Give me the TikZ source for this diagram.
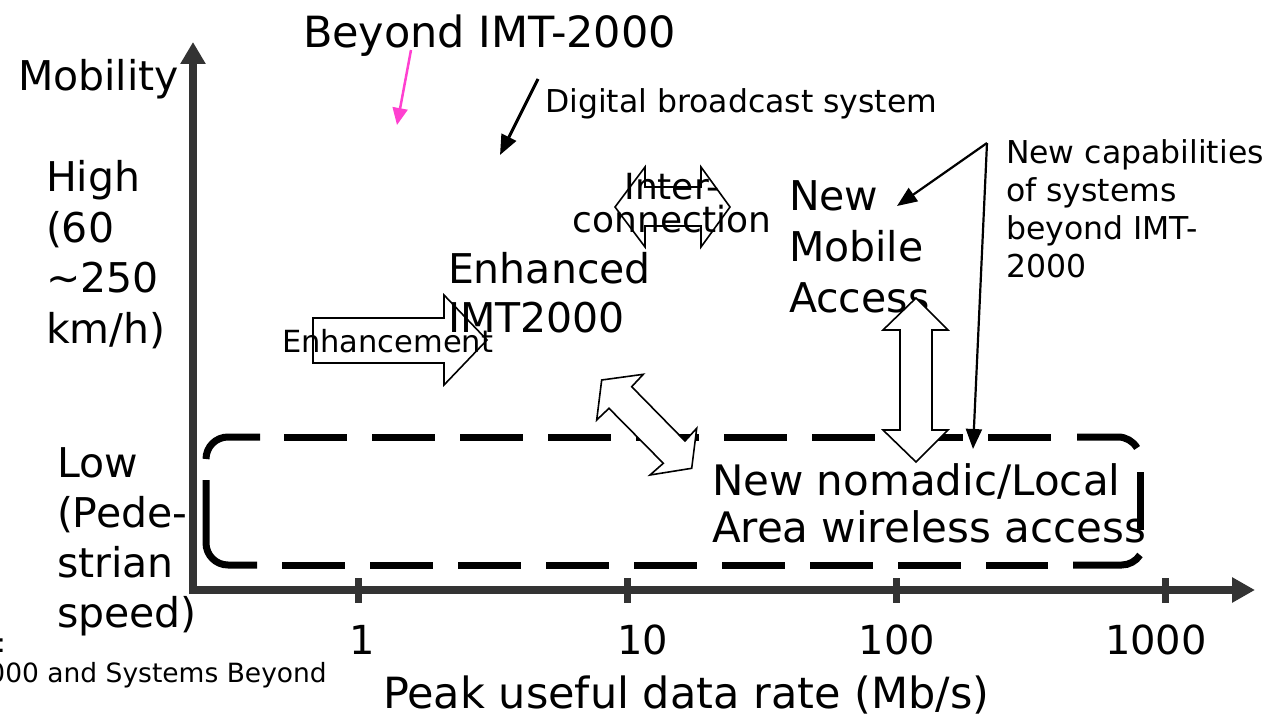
\documentclass[tikz,border=0pt]{standalone}
\usepackage{fontspec}
\setmainfont{DejaVu Sans}
\usetikzlibrary{arrows.meta}
\definecolor{axisgray}{RGB}{51,51,51}
\definecolor{callpink}{RGB}{255,64,208}

\begin{document}
\begin{tikzpicture}[x=1pt,y=-1pt,
  % multi-line labels are placed by the baseline of their last line
  lbl/.style={inner sep=0pt, outer sep=0pt, anchor=base west, align=left},
  ctr/.style={inner sep=0pt, outer sep=0pt, anchor=base, align=center},
  axisline/.style={draw=axisgray, line width=7.5pt},
  axistick/.style={draw=axisgray, line width=7pt},
  boxline/.style={draw=black, line width=7pt, line cap=butt},
  boxdash/.style={boxline, dash pattern=on 63pt off 25pt},
  blockarrow/.style={draw=black, line width=1.6pt, line join=miter},
  callout/.style={draw=black, line width=2.4pt, -{Triangle[length=20pt,width=16pt]}},
]
\useasboundingbox (0,0) rectangle (1275,717);
\clip (0,0) rectangle (1275,717);

% axes
\coordinate (origin) at (193,590);
\coordinate (ytop) at (193,42);
\coordinate (xend) at (1255,590);
\draw[axisline, -{Triangle[length=22pt,width=24pt]}] (193,594) -- (ytop);
\draw[axisline, -{Triangle[length=23pt,width=24pt]}] (189,590) -- (xend);
\foreach \tx in {358,627,896,1165}
  \draw[axistick] (\tx,578) -- (\tx,603);

% dashed rounded frame of the nomadic / local area region
\draw[boxdash] (284,437) -- (1052,437);
\draw[boxdash] (282,565) -- (1048,565);
\draw[boxline] (206,459) arc[start angle=180, end angle=270, radius=22] -- (260,437);
\draw[boxline] (206,480) -- (206,543) arc[start angle=180, end angle=90, radius=22] -- (257,565);
\draw[boxline] (1077,437) -- (1118,437) arc[start angle=270, end angle=330, radius=22];
\draw[boxline] (1140,472) -- (1140,530);
\draw[boxline] (1140,555) arc[start angle=33, end angle=90, radius=22] -- (1073,565);

% axis texts
\node[lbl, font={\fontsize{41}{50}\selectfont}] (mobility) at (18,90) {Mobility};
\node[lbl, font={\fontsize{41}{50.5}\selectfont}] (high) at (46,343) {High\\(60\\\textasciitilde250\\km/h)};
\node[lbl, font={\fontsize{41}{50}\selectfont}] (low) at (57,627) {Low\\(Pede-\\strian\\speed)};
\node[ctr, font={\fontsize{40}{48}\selectfont}] (t1) at (362,654) {1};
\node[ctr, font={\fontsize{40}{48}\selectfont}] (t10) at (643,654) {10};
\node[ctr, font={\fontsize{40}{48}\selectfont}] (t100) at (897,654) {100};
\node[ctr, font={\fontsize{40}{48}\selectfont}] (t1000) at (1156,654) {1000};
\node[lbl, font={\fontsize{43}{50}\selectfont}] (xlabel) at (383,708) {Peak useful data rate (Mb/s)};
\node[inner sep=0pt, anchor=base east, font={\fontsize{26.5}{30}\selectfont}] (srcA) at (6,652) {:};
\node[inner sep=0pt, anchor=base east, font={\fontsize{26.5}{30}\selectfont}] (srcB) at (327,682) {000 and Systems Beyond};

% region texts
\node[lbl, font={\fontsize{43}{50}\selectfont}] (beyond) at (303,48) {Beyond IMT-2000};
\node[lbl, font={\fontsize{31.5}{38}\selectfont}] (digital) at (545,113) {Digital broadcast system};
\node[lbl, font={\fontsize{41}{49}\selectfont}] (enhanced) at (448,332) {Enhanced\\IMT2000};
\node[lbl, font={\fontsize{41}{51}\selectfont}] (newmobile) at (789,312) {New\\Mobile\\Access};
\node[lbl, font={\fontsize{42}{47}\selectfont}] (nomadic) at (712,542) {New nomadic/Local\\Area wireless access};
\node[lbl, font={\fontsize{31.5}{38}\selectfont}] (capab) at (1006,277) {New capabilities\\of systems\\beyond IMT-\\2000};

% block arrows
\draw[blockarrow] (313,318) -- (444,318) -- (444,295) -- (487,340) -- (444,385) -- (444,363) -- (313,363) -- cycle;
\node[lbl, font={\fontsize{30.5}{36}\selectfont}] (enhancement) at (282,352) {Enhancement};
\draw[blockarrow] (615,207) -- (645,167) -- (645,187) -- (701,187) -- (701,167) -- (730,207)
  -- (701,247) -- (701,226) -- (645,226) -- (645,247) -- cycle;
\node[ctr, font={\fontsize{36}{33}\selectfont}] (inter) at (672,232) {Inter-\\connection};
\draw[blockarrow, fill=white] (601.7,380) -- (643.3,374.3) -- (631.7,386.7) -- (685,441) -- (696.7,428.3)
  -- (691.7,468.3) -- (650,475) -- (663.3,463.3) -- (609,408.3) -- (596.7,420) -- cycle;
\draw[blockarrow, fill=white] (916,298) -- (948,330) -- (932,330) -- (932,430) -- (948,430) -- (916,462)
  -- (883,430) -- (900,430) -- (900,330) -- (883,330) -- cycle;

% pointer arrows
\coordinate (pinkS) at (411,50);
\coordinate (pinkE) at (397,125);
\draw[draw=callpink, line width=2.5pt, -{Triangle[length=17pt,width=15pt]}] (pinkS) -- (pinkE);
\coordinate (digS) at (538,79);
\coordinate (digE) at (500,155);
\draw[callout, line width=3pt] (digS) -- (digE);
\coordinate (capV) at (987,143);
\coordinate (capA) at (897,206);
\coordinate (capB) at (973,449);
\draw[callout, line width=2.2pt] (capV) -- (capA);
\draw[callout, line width=2.2pt] (capV) -- (capB);
\end{tikzpicture}
\end{document}
